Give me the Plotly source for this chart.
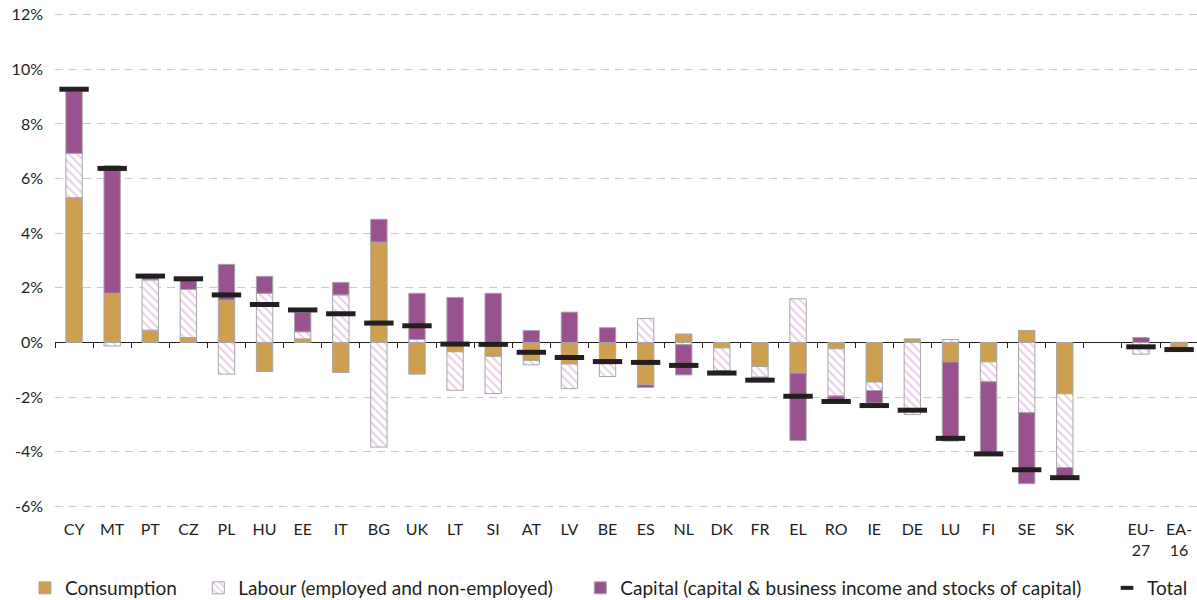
import plotly.graph_objects as go

categories = ["CY", "MT", "PT", "CZ", "PL", "HU", "EE", "IT", "BG", "UK", "LT", "SI", "AT", "LV",
              "BE", "ES", "NL", "DK", "FR", "EL", "RO", "IE", "DE", "LU", "FI", "SE", "SK", " ",
              "EU-27", "EA-16"]
tick_labels = ["CY", "MT", "PT", "CZ", "PL", "HU", "EE", "IT", "BG", "UK", "LT", "SI", "AT", "LV",
               "BE", "ES", "NL", "DK", "FR", "EL", "RO", "IE", "DE", "LU", "FI", "SE", "SK", "",
               "EU-<br>27", "EA-<br>16"]

consumption = [5.3, 1.8, 0.45, 0.18, 1.55, -1.06, 0.13, -1.1, 3.67, -1.16, -0.34, -0.51, -0.66, -0.79,
               -0.78, -1.55, 0.31, -0.2, -0.88, -1.12, -0.23, -1.45, 0.12, -0.71, -0.71, 0.44, -1.88, None,
               0.0, -0.2]
labour = [1.62, -0.13, 1.84, 1.76, -1.16, 1.8, 0.26, 1.74, -3.83, 0.11, -1.41, -1.36, -0.16, -0.9,
          -0.47, 0.88, -0.08, -0.84, -0.39, 1.6, -1.73, -0.31, -2.64, 0.11, -0.73, -2.57, -2.7, None,
          -0.43, -0.06]
capital = [2.27, 4.67, 0.08, 0.35, 1.31, 0.62, 0.71, 0.46, 0.84, 1.69, 1.65, 1.8, 0.44, 1.11,
           0.54, -0.1, -1.11, -0.08, -0.1, -2.47, -0.15, -0.46, 0.0, -2.9, -2.63, -2.6, -0.32, None,
           0.18, 0.0]
total = [9.27, 6.37, 2.43, 2.33, 1.74, 1.39, 1.19, 1.05, 0.71, 0.61, -0.06, -0.07, -0.36, -0.55,
         -0.70, -0.73, -0.84, -1.12, -1.38, -1.97, -2.16, -2.31, -2.48, -3.51, -4.08, -4.66, -4.95, None,
         -0.16, -0.26]

y_ticks = [-6, -4, -2, 0, 2, 4, 6, 8, 10, 12]
y_tick_labels = ["-6%", "-4%", "-2%", "0%", "2%", "4%", "6%", "8%", "10%", "12%"]

FONT = "Lato"
TXT = "#231f20"
BORDER = dict(color="#a7a7a7", width=1)
WIDTH = 0.43

fig = go.Figure()
fig.add_trace(go.Bar(x=categories, y=consumption, name="Consumption", width=WIDTH,
                     marker=dict(color="#cd9f4f", line=BORDER), legend="legend"))
fig.add_trace(go.Bar(x=categories, y=labour, name="Labour (employed and non-employed)", width=WIDTH,
                     marker=dict(color="white", line=BORDER,
                                 pattern=dict(shape="\\", fgcolor="#d3a0d3", bgcolor="white",
                                              size=6, solidity=0.35)),
                     legend="legend2"))
fig.add_trace(go.Bar(x=categories, y=capital, name="Capital (capital & business income and stocks of capital)",
                     width=WIDTH, marker=dict(color="#99518f", line=BORDER), legend="legend3"))
fig.add_trace(go.Scatter(x=categories, y=total, name="Total", mode="markers", xaxis="x2",
                         marker=dict(symbol="line-ew", size=21, color=TXT,
                                     line=dict(color=TXT, width=5)),
                         showlegend=False))
# legend entry for Total (smaller dash, like the reference key)
fig.add_trace(go.Scatter(x=[None], y=[None], name="Total", mode="markers", xaxis="x2",
                         marker=dict(symbol="line-ew", size=9, color=TXT,
                                     line=dict(color=TXT, width=4)),
                         legend="legend4"))

# a little headroom so the 12% and -6% gridlines are not clipped at the plot edges
ymin, ymax = -6.06, 12.06
zero_pos = (0 - ymin) / (ymax - ymin)

leg_common = dict(orientation="h", yanchor="middle", y=-0.1616, xanchor="left",
                  font=dict(family=FONT, size=19, color=TXT), bgcolor="rgba(0,0,0,0)",
                  itemclick=False)

fig.update_layout(
    width=1197, height=600,
    margin=dict(l=55, r=0, t=13, b=92, autoexpand=False),
    barmode="relative",
    plot_bgcolor="white", paper_bgcolor="white",
    font=dict(family=FONT, size=16, color=TXT),
    xaxis=dict(type="category", categoryorder="array", categoryarray=categories,
               range=[-0.5, 29.47], tickvals=categories, ticktext=tick_labels,
               showgrid=False, showline=False, ticks="", ticklabelstandoff=10,
               tickfont=dict(family=FONT, size=16, color=TXT), zeroline=False),
    xaxis2=dict(type="category", categoryorder="array", categoryarray=categories,
                range=[-0.5, 29.47], overlaying="x", anchor="free", position=zero_pos,
                side="bottom", showticklabels=False, showgrid=False, showline=False,
                ticks="outside", tickson="boundaries", ticklen=5, tickwidth=1, tickcolor=TXT,
                zeroline=False),
    yaxis=dict(range=[ymin, ymax], tickvals=y_ticks, ticktext=y_tick_labels,
               showgrid=True, gridcolor="#c9c9c9", gridwidth=1, griddash="8px,6px",
               zeroline=True, zerolinecolor=TXT, zerolinewidth=1.2,
               showline=False, ticks="", ticklabelstandoff=11,
               tickfont=dict(family=FONT, size=16, color=TXT)),
    legend=dict(leg_common, x=-0.0263),
    legend2=dict(leg_common, x=0.1255),
    legend3=dict(leg_common, x=0.4600),
    legend4=dict(leg_common, x=0.9212),
    showlegend=True,
)

# remove the browser's default 8px page margin so the figure fills the window exactly
fig.write_html("out.html", config={"displayModeBar": False},
               post_script="document.body.style.margin='0';")
